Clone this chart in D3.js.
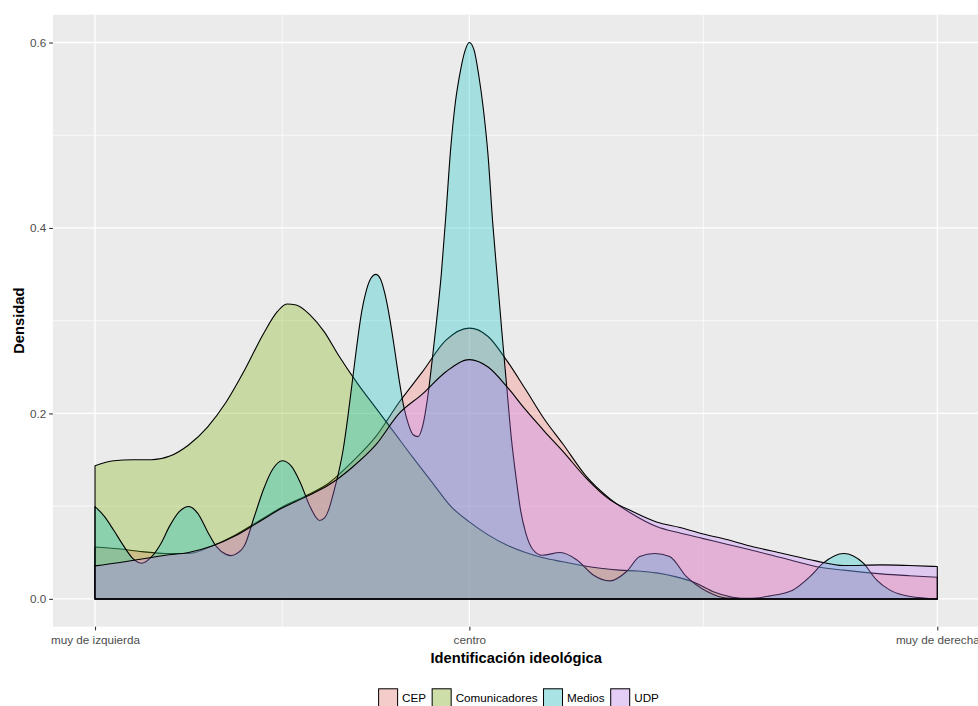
<!DOCTYPE html>
<html>
<head>
<meta charset="utf-8">
<script src="https://cdn.jsdelivr.net/npm/d3@7"></script>
<style>
  body { margin: 0; background: #fff; }
  svg text { font-family: "Liberation Sans", Arial, sans-serif; }
</style>
</head>
<body>
<svg id="chart" width="978" height="706"></svg>
<script>
// series and axis labels
const seriesNames = ["CEP", "Comunicadores", "Medios", "UDP"];
const seriesColors = ["#F8766D", "#7CAE00", "#00BFC4", "#C77CFF"];
const xTickValues = [1, 5, 10];
const xTickLabels = ["muy de izquierda", "centro", "muy de derecha"];
const xMinorValues = [3, 7.5];
const yTickValues = [0, 0.2, 0.4, 0.6];
const yMinorValues = [0.1, 0.3, 0.5];

// density estimates: [x, density]
const cepDens = [
  [1.0, 0.056], [1.25, 0.054], [1.5, 0.051], [1.75, 0.049], [2.0, 0.049],
  [2.25, 0.057], [2.5, 0.069], [2.75, 0.084], [3.0, 0.099], [3.25, 0.111],
  [3.5, 0.125], [3.75, 0.148], [4.0, 0.175], [4.25, 0.212], [4.5, 0.245],
  [4.75, 0.279], [5.0, 0.292], [5.2, 0.283], [5.4, 0.257], [5.6, 0.226],
  [5.8, 0.194], [6.0, 0.167], [6.25, 0.132], [6.5, 0.108], [6.75, 0.091],
  [7.0, 0.078], [7.25, 0.071], [7.5, 0.065], [7.75, 0.059], [8.0, 0.053],
  [8.35, 0.044], [8.7, 0.035], [9.0, 0.031], [9.4, 0.027], [9.7, 0.025],
  [10.0, 0.0234]
];

const comDens = [
  [1.0, 0.1435], [1.2, 0.149], [1.4, 0.150], [1.6, 0.150], [1.8, 0.154],
  [2.0, 0.166], [2.2, 0.185], [2.4, 0.212], [2.6, 0.247], [2.8, 0.286],
  [2.95, 0.310], [3.05, 0.318], [3.15, 0.317], [3.3, 0.306], [3.45, 0.288],
  [3.6, 0.263], [3.8, 0.233], [4.0, 0.206], [4.2, 0.179], [4.4, 0.152],
  [4.6, 0.126], [4.8, 0.100], [5.0, 0.083], [5.2, 0.069], [5.4, 0.058],
  [5.6, 0.050], [5.8, 0.044], [6.0, 0.040], [6.2, 0.036], [6.4, 0.033],
  [6.6, 0.031], [6.8, 0.030], [7.0, 0.028], [7.2, 0.024], [7.4, 0.018],
  [7.6, 0.008], [7.8, 0.002], [8.0, 0.0], [10.0, 0.0]
];

const medDens = [
  [1.0, 0.0996], [1.1, 0.089], [1.2, 0.074], [1.3, 0.058], [1.4, 0.044],
  [1.5, 0.0385], [1.6, 0.045], [1.7, 0.059], [1.8, 0.079], [1.9, 0.094],
  [2.0, 0.0996], [2.1, 0.092], [2.2, 0.073], [2.3, 0.056], [2.4, 0.048],
  [2.45, 0.0467], [2.5, 0.048], [2.6, 0.058], [2.7, 0.088], [2.8, 0.118],
  [2.9, 0.140], [3.0, 0.149], [3.1, 0.143], [3.2, 0.124], [3.3, 0.099],
  [3.4, 0.0845], [3.45, 0.087], [3.5, 0.097], [3.55, 0.115], [3.6, 0.135],
  [3.65, 0.160], [3.7, 0.195], [3.75, 0.235], [3.8, 0.275], [3.85, 0.310],
  [3.9, 0.333], [3.95, 0.346], [4.0, 0.350], [4.05, 0.345], [4.1, 0.328],
  [4.15, 0.302], [4.2, 0.270], [4.25, 0.236], [4.3, 0.207], [4.35, 0.188],
  [4.4, 0.177], [4.45, 0.175], [4.5, 0.186], [4.55, 0.214], [4.6, 0.255],
  [4.65, 0.300], [4.7, 0.350], [4.75, 0.415], [4.8, 0.485], [4.85, 0.535],
  [4.9, 0.567], [4.95, 0.590], [5.0, 0.600], [5.05, 0.592], [5.1, 0.565],
  [5.15, 0.528], [5.2, 0.478], [5.25, 0.405], [5.3, 0.345], [5.35, 0.285],
  [5.4, 0.228], [5.45, 0.172], [5.5, 0.130], [5.55, 0.094], [5.6, 0.072],
  [5.68, 0.053], [5.78, 0.047], [5.97, 0.050], [6.15, 0.042], [6.32, 0.026],
  [6.5, 0.0194], [6.68, 0.0295], [6.82, 0.0457], [6.98, 0.049], [7.14, 0.0457],
  [7.32, 0.024], [7.54, 0.008], [7.75, 0.001], [8.0, 0.0005], [8.2, 0.003],
  [8.46, 0.0097], [8.64, 0.024], [8.78, 0.0385], [9.0, 0.049], [9.21, 0.0385],
  [9.35, 0.0205], [9.49, 0.0097], [9.71, 0.0025], [10.0, 0.0]
];

const udpDens = [
  [1.0, 0.0356], [1.25, 0.039], [1.5, 0.043], [1.75, 0.047], [2.0, 0.050],
  [2.25, 0.057], [2.5, 0.068], [2.75, 0.083], [3.0, 0.098], [3.25, 0.110],
  [3.5, 0.123], [3.75, 0.142], [4.0, 0.166], [4.25, 0.200], [4.5, 0.221],
  [4.75, 0.245], [5.0, 0.258], [5.2, 0.250], [5.4, 0.229], [5.6, 0.204],
  [5.8, 0.181], [6.0, 0.159], [6.25, 0.130], [6.5, 0.107], [6.75, 0.094],
  [7.0, 0.083], [7.25, 0.077], [7.5, 0.070], [7.75, 0.064], [8.0, 0.057],
  [8.35, 0.049], [8.7, 0.041], [9.0, 0.036], [9.4, 0.0367], [9.7, 0.036],
  [10.0, 0.0349]
];

const seriesData = [cepDens, comDens, medDens, udpDens];

const svg = d3.select("#chart");
const panel = { left: 52.9, right: 979.4, top: 14.7, bottom: 626.7 };

// ggplot style 5% expansion
const xMin = d3.min(seriesData, s => d3.min(s, d => d[0]));
const xMax = d3.max(seriesData, s => d3.max(s, d => d[0]));
const yMax = d3.max(seriesData, s => d3.max(s, d => d[1]));
const xPad = (xMax - xMin) * 0.05;
const yPad = yMax * 0.05;

const x = d3.scaleLinear().domain([xMin - xPad, xMax + xPad]).range([panel.left, panel.right]);
const y = d3.scaleLinear().domain([-yPad, yMax + yPad]).range([panel.bottom, panel.top]);

// panel background + grid
svg.append("rect")
  .attr("x", panel.left).attr("y", panel.top)
  .attr("width", panel.right - panel.left).attr("height", panel.bottom - panel.top)
  .attr("fill", "#EBEBEB");

const grid = svg.append("g");
grid.selectAll(".ymin").data(yMinorValues).enter().append("line")
  .attr("x1", panel.left).attr("x2", panel.right)
  .attr("y1", d => y(d)).attr("y2", d => y(d))
  .attr("stroke", "#fff").attr("stroke-width", 0.7);
grid.selectAll(".xmin").data(xMinorValues).enter().append("line")
  .attr("y1", panel.top).attr("y2", panel.bottom)
  .attr("x1", d => x(d)).attr("x2", d => x(d))
  .attr("stroke", "#fff").attr("stroke-width", 0.7);
grid.selectAll(".ymaj").data(yTickValues).enter().append("line")
  .attr("x1", panel.left).attr("x2", panel.right)
  .attr("y1", d => y(d)).attr("y2", d => y(d))
  .attr("stroke", "#fff").attr("stroke-width", 1.3);
grid.selectAll(".xmaj").data(xTickValues).enter().append("line")
  .attr("y1", panel.top).attr("y2", panel.bottom)
  .attr("x1", d => x(d)).attr("x2", d => x(d))
  .attr("stroke", "#fff").attr("stroke-width", 1.3);

// density areas, drawn in factor order
const area = d3.area()
  .x(d => x(d[0]))
  .y0(y(0))
  .y1(d => y(d[1]))
  .curve(d3.curveMonotoneX);

svg.append("g").selectAll("path").data(seriesData).enter().append("path")
  .attr("d", d => area(d))
  .attr("fill", (d, i) => seriesColors[i])
  .attr("fill-opacity", 0.3)
  .attr("stroke", "#000")
  .attr("stroke-width", 1.1)
  .attr("stroke-linejoin", "round");

// axes
const xAxis = svg.append("g")
  .attr("transform", `translate(0,${panel.bottom})`)
  .call(d3.axisBottom(x).tickValues(xTickValues)
    .tickFormat((d, i) => xTickLabels[i]).tickSize(3.7).tickPadding(5));
const yAxis = svg.append("g")
  .attr("transform", `translate(${panel.left},0)`)
  .call(d3.axisLeft(y).tickValues(yTickValues)
    .tickFormat(d3.format(".1f")).tickSize(3.7).tickPadding(2.9));

[xAxis, yAxis].forEach(g => {
  g.select(".domain").remove();
  g.selectAll(".tick line").attr("stroke", "#333333").attr("stroke-width", 1.1);
  g.selectAll(".tick text")
    .attr("fill", "#4D4D4D")
    .style("font-family", '"Liberation Sans", Arial, sans-serif')
    .style("font-size", "11.7px");
});

// axis titles
svg.append("text")
  .attr("x", (panel.left + panel.right) / 2)
  .attr("y", 663)
  .attr("text-anchor", "middle")
  .style("font-size", "14.7px")
  .style("font-weight", "bold")
  .text("Identificación ideológica");

svg.append("text")
  .attr("transform", `translate(24,${(panel.top + panel.bottom) / 2}) rotate(-90)`)
  .attr("text-anchor", "middle")
  .style("font-size", "14.7px")
  .style("font-weight", "bold")
  .text("Densidad");

// legend
const keySize = 20, keyGap = 4, itemGap = 5.5, legendTop = 688.3, legendCenter = 518.5;
const legend = svg.append("g");
const items = legend.selectAll("g").data(seriesNames).enter().append("g");
items.append("rect")
  .attr("width", keySize).attr("height", keySize)
  .attr("fill", "#F2F2F2");
items.append("rect")
  .attr("x", 0.5).attr("y", 0.5)
  .attr("width", keySize - 1).attr("height", keySize - 1)
  .attr("fill", (d, i) => seriesColors[i])
  .attr("fill-opacity", 0.3)
  .attr("stroke", "#000")
  .attr("stroke-width", 1);
items.append("text")
  .attr("x", keySize + keyGap)
  .attr("y", keySize / 2)
  .attr("dy", "0.35em")
  .style("font-size", "11.7px")
  .text(d => d);

let offsets = [], cursor = 0;
items.each(function () {
  offsets.push(cursor);
  const w = this.querySelector("text").getComputedTextLength();
  cursor += keySize + keyGap + w + itemGap;
});
const totalWidth = cursor - itemGap;
const legendLeft = legendCenter - totalWidth / 2;
items.attr("transform", (d, i) => `translate(${legendLeft + offsets[i]},${legendTop})`);
</script>
</body>
</html>
